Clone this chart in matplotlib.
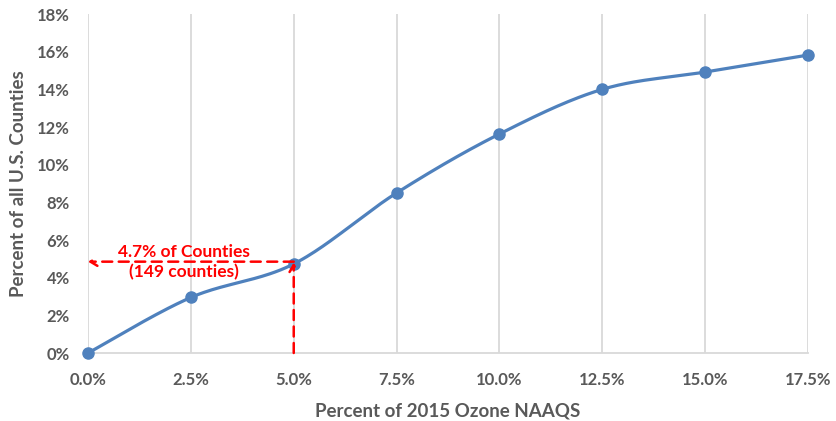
import numpy as np
import matplotlib
matplotlib.use("Agg")
import matplotlib.pyplot as plt
from matplotlib.ticker import FuncFormatter

# Data
x_pct = [0.0, 2.5, 5.0, 7.5, 10.0, 12.5, 15.0, 17.5]
y_pct = [0.0, 2.95, 4.73, 8.5, 11.63, 14.0, 14.92, 15.82]
annot_y = 4.85
annot_x = 5.0
annot_lines = ["4.7% of Counties", "(149 counties)"]
xlabel = "Percent of 2015 Ozone NAAQS"
ylabel = "Percent of all U.S. Counties"

plt.rcParams['font.family'] = ['Lato', 'DejaVu Sans']

BLUE = "#4F81BD"
GREY = "#595959"
RED = "#FF0000"


def smooth(xs, ys, n=40):
    # Excel-style smoothed line: cubic Bezier with Catmull-Rom control points
    P = np.column_stack([xs, ys]).astype(float)
    out = []
    for i in range(len(P) - 1):
        p0 = P[i - 1] if i > 0 else P[i]
        p1 = P[i]
        p2 = P[i + 1]
        p3 = P[i + 2] if i + 2 < len(P) else P[i + 1]
        c1 = p1 + (p2 - p0) / 6.0
        c2 = p2 - (p3 - p1) / 6.0
        t = np.linspace(0, 1, n)[:, None]
        seg = ((1 - t) ** 3) * p1 + 3 * ((1 - t) ** 2) * t * c1 + 3 * (1 - t) * t ** 2 * c2 + t ** 3 * p2
        out.append(seg if i == 0 else seg[1:])
    a = np.vstack(out)
    return a[:, 0], a[:, 1]


fig = plt.figure(figsize=(8.36, 4.21), dpi=100)
ax = fig.add_axes([0.1053, 0.1615, 0.8612, 0.8052])

sx, sy = smooth(x_pct, y_pct)
ax.plot(sx, sy, color=BLUE, lw=2.3, zorder=3, solid_capstyle='round', clip_on=False)
ax.plot(x_pct, y_pct, 'o', color=BLUE, ms=8, zorder=4, clip_on=False)

ax.set_xlim(0, 17.5)
ax.set_ylim(0, 18)
ax.set_xticks(x_pct)
ax.set_yticks(np.arange(0, 19, 2))
ax.xaxis.set_major_formatter(FuncFormatter(lambda v, p: f"{v:.1f}%"))
ax.yaxis.set_major_formatter(FuncFormatter(lambda v, p: f"{v:.0f}%"))
ax.grid(axis='x', color="#D9D9D9", lw=1.3, zorder=0)
ax.set_axisbelow(True)
for s in ['top', 'right', 'left']:
    ax.spines[s].set_visible(False)
ax.spines['bottom'].set_color("#D9D9D9")
ax.spines['bottom'].set_linewidth(1.3)
ax.tick_params(length=0, colors=GREY, labelsize=12)
ax.tick_params(axis='x', pad=14)
ax.tick_params(axis='y', pad=13)
for lab in ax.get_xticklabels() + ax.get_yticklabels():
    lab.set_fontweight('bold')
ax.set_xlabel(xlabel, fontsize=13.5, fontweight='bold', color=GREY, labelpad=10)
ax.set_ylabel(ylabel, fontsize=13.5, fontweight='bold', color=GREY, labelpad=7)

# Annotation arrows
arrow_kw = dict(arrowstyle='->,head_length=0.5,head_width=0.3', color=RED, lw=1.8,
                linestyle=(0, (4, 2.6)), shrinkA=0, shrinkB=0)
ax.annotate("", xy=(0.0, annot_y), xytext=(annot_x, annot_y), arrowprops=arrow_kw, zorder=5)
ax.annotate("", xy=(annot_x, annot_y - 0.05), xytext=(annot_x, 0.0), arrowprops=arrow_kw, zorder=5)
ax.text(2.33, 5.38, annot_lines[0], color=RED, fontsize=12.5, fontweight='bold',
        ha='center', va='center', zorder=6)
ax.text(2.33, 4.3, annot_lines[1], color=RED, fontsize=12.5, fontweight='bold',
        ha='center', va='center', zorder=6)

fig.savefig("out.png", dpi=100)
